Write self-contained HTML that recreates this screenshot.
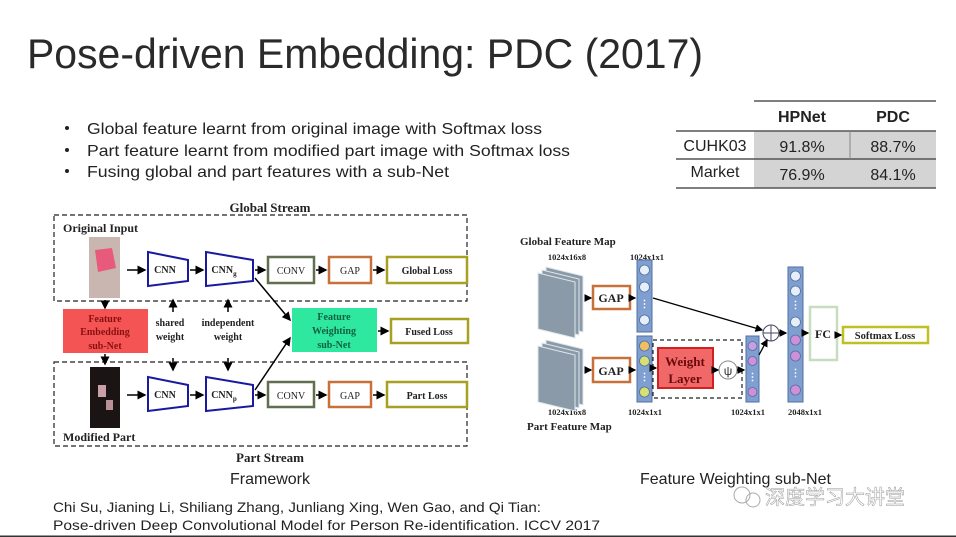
<!DOCTYPE html>
<html><head><meta charset="utf-8"><style>
html,body{margin:0;padding:0;background:#fff;width:956px;height:537px;overflow:hidden}
svg{display:block}
.s{font-family:"Liberation Sans",sans-serif}
.t{font-family:"Liberation Serif",serif;font-weight:bold;fill:#222}
</style></head><body>
<svg width="956" height="537" viewBox="0 0 956 537" xmlns="http://www.w3.org/2000/svg">
<defs>
<marker id="a" markerWidth="6" markerHeight="6" refX="5" refY="3" orient="auto"><path d="M0,0 L6,3 L0,6 z" fill="#000"/></marker>
</defs>
<rect width="956" height="537" fill="#fff"/>
<text class="s" x="27" y="68" font-size="42" fill="#2a2a2a" textLength="676" lengthAdjust="spacingAndGlyphs">Pose-driven Embedding: PDC (2017)</text>
<g class="s" font-size="16" fill="#222">
<circle cx="67" cy="128" r="2" fill="#222"/><circle cx="67" cy="150" r="2" fill="#222"/><circle cx="67" cy="171" r="2" fill="#222"/>
<text x="87" y="134" textLength="455" lengthAdjust="spacingAndGlyphs">Global feature learnt from original image with Softmax loss</text>
<text x="87" y="156" textLength="483" lengthAdjust="spacingAndGlyphs">Part feature learnt from modified part image with Softmax loss</text>
<text x="87" y="177" textLength="362" lengthAdjust="spacingAndGlyphs">Fusing global and part features with a sub-Net</text>
</g>
<rect x="754" y="131" width="182" height="57" fill="#d4d4d4"/>
<line x1="754" y1="101" x2="936" y2="101" stroke="#555" stroke-width="1.5"/>
<line x1="676" y1="131" x2="936" y2="131" stroke="#555" stroke-width="1.5"/>
<line x1="676" y1="159" x2="936" y2="159" stroke="#555" stroke-width="1.5"/>
<line x1="676" y1="188" x2="936" y2="188" stroke="#555" stroke-width="1.5"/>
<line x1="850" y1="131" x2="850" y2="159" stroke="#888" stroke-width="1"/>
<g class="s" font-size="16" fill="#222" text-anchor="middle">
<text x="802" y="122" font-weight="bold">HPNet</text>
<text x="893" y="122" font-weight="bold">PDC</text>
<text x="715" y="151">CUHK03</text>
<text x="715" y="177">Market</text>
<text x="802" y="152">91.8%</text><text x="893" y="152">88.7%</text>
<text x="802" y="180">76.9%</text><text x="893" y="180">84.1%</text>
</g>
<g class="t" font-size="12">
<text x="270" y="212" text-anchor="middle" font-size="13">Global Stream</text>
<text x="270" y="462" text-anchor="middle" font-size="13">Part Stream</text>
<text x="63" y="232">Original Input</text>
<text x="63" y="441">Modified Part</text>
</g>
<rect x="54" y="215" width="413" height="86" fill="none" stroke="#222" stroke-dasharray="5,3" stroke-width="1.2"/>
<rect x="54" y="362" width="413" height="84" fill="none" stroke="#222" stroke-dasharray="5,3" stroke-width="1.2"/>
<rect x="89" y="237" width="31" height="61" fill="#c9b6b0"/>
<path d="M95,250 L112,248 L116,268 L98,272 z" fill="#e85a7a"/>
<rect x="90" y="367" width="30" height="61" fill="#1b1414"/>
<rect x="98" y="385" width="8" height="12" fill="#c9a0a8"/><rect x="106" y="400" width="7" height="10" fill="#b89098"/>
<g fill="#fff" stroke="#1a1aa0" stroke-width="2">
<path d="M148,252 L188,260 L188,281 L148,286 z"/>
<path d="M206,252 L253,260 L253,281 L206,286 z"/>
<path d="M148,377 L188,385 L188,406 L148,411 z"/>
<path d="M206,377 L253,385 L253,406 L206,411 z"/>
</g>
<g class="t" font-size="10" font-weight="normal">
<text x="165" y="273" text-anchor="middle">CNN</text>
<text x="224" y="273" text-anchor="middle">CNN<tspan font-size="7" dy="3">g</tspan></text>
<text x="165" y="398" text-anchor="middle">CNN</text>
<text x="224" y="398" text-anchor="middle">CNN<tspan font-size="7" dy="3">p</tspan></text>
</g>
<g fill="#fff" stroke-width="2.5">
<rect x="268" y="257" width="46" height="26" stroke="#5f6f50"/>
<rect x="329" y="257" width="42" height="26" stroke="#c8703a"/>
<rect x="387" y="257" width="80" height="26" stroke="#a8a020"/>
<rect x="268" y="382" width="46" height="25" stroke="#5f6f50"/>
<rect x="329" y="382" width="42" height="25" stroke="#c8703a"/>
<rect x="387" y="382" width="80" height="25" stroke="#a8a020"/>
<rect x="391" y="319" width="77" height="24" stroke="#a8a020"/>
</g>
<rect x="63" y="309" width="85" height="44" fill="#f45454"/>
<rect x="292" y="308" width="85" height="44" fill="#2ee8a0"/>
<g class="t" font-size="10">
<text x="291" y="274" text-anchor="middle" font-weight="normal">CONV</text>
<text x="350" y="274" text-anchor="middle" font-weight="normal">GAP</text>
<text x="427" y="274" text-anchor="middle">Global Loss</text>
<text x="291" y="399" text-anchor="middle" font-weight="normal">CONV</text>
<text x="350" y="399" text-anchor="middle" font-weight="normal">GAP</text>
<text x="427" y="399" text-anchor="middle">Part Loss</text>
<text x="429" y="335" text-anchor="middle">Fused Loss</text>
<text x="105" y="322" text-anchor="middle" fill="#8a1010">Feature</text>
<text x="105" y="335" text-anchor="middle" fill="#8a1010">Embedding</text>
<text x="105" y="349" text-anchor="middle" fill="#8a1010">sub-Net</text>
<text x="334" y="320" text-anchor="middle" fill="#106040">Feature</text>
<text x="334" y="334" text-anchor="middle" fill="#106040">Weighting</text>
<text x="334" y="348" text-anchor="middle" fill="#106040">sub-Net</text>
<text x="170" y="326" text-anchor="middle">shared</text>
<text x="170" y="340" text-anchor="middle">weight</text>
<text x="228" y="326" text-anchor="middle">independent</text>
<text x="228" y="340" text-anchor="middle">weight</text>
</g>
<g stroke="#000" stroke-width="1.5" marker-end="url(#a)">
<line x1="127" y1="270" x2="145" y2="270"/><line x1="190" y1="270" x2="203" y2="270"/>
<line x1="255" y1="270" x2="265" y2="270"/><line x1="316" y1="270" x2="326" y2="270"/><line x1="373" y1="270" x2="384" y2="270"/>
<line x1="127" y1="395" x2="145" y2="395"/><line x1="190" y1="395" x2="203" y2="395"/>
<line x1="255" y1="395" x2="265" y2="395"/><line x1="316" y1="395" x2="326" y2="395"/><line x1="373" y1="395" x2="384" y2="395"/>
<line x1="378" y1="331" x2="388" y2="331"/>
<line x1="105" y1="300" x2="105" y2="308"/><line x1="105" y1="354" x2="105" y2="364"/>
<line x1="173" y1="312" x2="173" y2="300"/><line x1="228" y1="312" x2="228" y2="300"/>
<line x1="173" y1="358" x2="173" y2="370"/><line x1="228" y1="358" x2="228" y2="370"/>
<line x1="255" y1="278" x2="290" y2="320"/><line x1="255" y1="390" x2="290" y2="338"/>
</g>
<text class="s" x="270" y="484" font-size="16" fill="#222" text-anchor="middle">Framework</text>
<g class="t" font-size="11">
<text x="520" y="245">Global Feature Map</text>
<text x="527" y="430">Part Feature Map</text>
</g>
<g class="t" font-size="8.5">
<text x="567" y="260" text-anchor="middle">1024x16x8</text>
<text x="647" y="260" text-anchor="middle">1024x1x1</text>
<text x="567" y="415" text-anchor="middle">1024x16x8</text>
<text x="645" y="415" text-anchor="middle">1024x1x1</text>
<text x="748" y="415" text-anchor="middle">1024x1x1</text>
<text x="805" y="415" text-anchor="middle">2048x1x1</text>
</g>
<g fill="#8a9aa8" stroke="#dfe6ec" stroke-width="1">
<path d="M546,267 L583,276 L583,332 L546,323 z"/><path d="M542,270 L579,279 L579,335 L542,326 z"/><path d="M538,273 L575,282 L575,338 L538,329 z"/>
<path d="M546,340 L583,349 L583,405 L546,396 z"/><path d="M542,343 L579,352 L579,408 L542,399 z"/><path d="M538,346 L575,355 L575,411 L538,402 z"/>
</g>
<rect x="593" y="286" width="37" height="23" fill="#fff" stroke="#c8703a" stroke-width="2.5"/>
<rect x="593" y="358" width="37" height="24" fill="#fff" stroke="#c8703a" stroke-width="2.5"/>
<g class="t" font-size="12"><text x="611" y="302" text-anchor="middle">GAP</text><text x="611" y="375" text-anchor="middle">GAP</text></g>
<g fill="#7f9fd0" stroke="#506fa0"><rect x="637" y="260" width="15" height="72"/><rect x="637" y="336" width="15" height="66"/><rect x="746" y="336" width="13" height="66"/><rect x="788" y="267" width="15" height="135"/></g>
<g stroke="#506fa0" stroke-width="0.8">
<circle cx="644.5" cy="270" r="5" fill="#e6eefa"/><circle cx="644.5" cy="287" r="5" fill="#e6eefa"/><circle cx="644.5" cy="320" r="5" fill="#e6eefa"/>
<circle cx="644.5" cy="346" r="5" fill="#f0c060"/><circle cx="644.5" cy="361" r="5" fill="#d8e070"/><circle cx="644.5" cy="392" r="5" fill="#d8e070"/>
<circle cx="752.5" cy="346" r="4.5" fill="#c8a0e0"/><circle cx="752.5" cy="361" r="4.5" fill="#d090d8"/><circle cx="752.5" cy="392" r="4.5" fill="#d090d8"/>
<circle cx="795.5" cy="276" r="5" fill="#e6eefa"/><circle cx="795.5" cy="291" r="5" fill="#e6eefa"/><circle cx="795.5" cy="322" r="5" fill="#e6eefa"/>
<circle cx="795.5" cy="340" r="5" fill="#d090d8"/><circle cx="795.5" cy="356" r="5" fill="#d090d8"/><circle cx="795.5" cy="390" r="5" fill="#d090d8"/>
</g>
<g fill="#fff" font-size="10" font-weight="bold" text-anchor="middle" class="s"><text x="644.5" y="307">⋮</text><text x="644.5" y="380">⋮</text><text x="752.5" y="380">⋮</text><text x="795.5" y="308">⋮</text><text x="795.5" y="376">⋮</text></g>
<rect x="653" y="340" width="89" height="58" fill="none" stroke="#222" stroke-dasharray="4,3" stroke-width="1.2"/>
<rect x="658" y="348" width="55" height="40" fill="#f06868" stroke="#d02020" stroke-width="2"/>
<g class="t" font-size="13"><text x="685" y="366" text-anchor="middle" fill="#6a0a0a">Weight</text><text x="685" y="383" text-anchor="middle" fill="#6a0a0a">Layer</text></g>
<circle cx="728" cy="370" r="9" fill="#fff" stroke="#888"/>
<text x="728" y="375" class="s" font-size="12" text-anchor="middle" fill="#333">ψ</text>
<circle cx="771" cy="333" r="8" fill="#fff" stroke="#446"/>
<path d="M763,333 H779 M771,325 V341" stroke="#446"/>
<rect x="810" y="307" width="27" height="53" fill="#fff" stroke="#c8dcc0" stroke-width="2.5"/>
<text x="823" y="338" class="t" font-size="12" text-anchor="middle">FC</text>
<rect x="843" y="327" width="85" height="16" fill="#fff" stroke="#c0c020" stroke-width="2.5"/>
<text x="885" y="339" class="t" font-size="10.5" text-anchor="middle">Softmax Loss</text>
<g stroke="#000" stroke-width="1.3" marker-end="url(#a)">
<line x1="587" y1="298" x2="591" y2="298"/><line x1="630" y1="298" x2="635" y2="298"/>
<line x1="587" y1="370" x2="591" y2="370"/><line x1="630" y1="370" x2="635" y2="370"/>
<line x1="652" y1="368" x2="656" y2="368"/><line x1="713" y1="370" x2="718" y2="370"/><line x1="737" y1="370" x2="744" y2="370"/>
<line x1="653" y1="298" x2="762" y2="330"/><line x1="759" y1="355" x2="767" y2="340"/>
<line x1="779" y1="333" x2="786" y2="333"/><line x1="803" y1="333" x2="808" y2="333"/><line x1="837" y1="335" x2="841" y2="335"/>
</g>
<text class="s" x="640" y="484" font-size="16" fill="#222">Feature Weighting sub-Net</text>
<g stroke="#aaa" fill="none" stroke-width="1"><circle cx="742" cy="495" r="8"/><circle cx="753" cy="500" r="7"/></g>
<text x="765" y="504" font-family="'Noto Sans CJK SC',sans-serif" font-size="20" fill="#fff" stroke="#999" stroke-width="0.5">深度学习大讲堂</text>
<g class="s" font-size="14" fill="#222">
<text x="53" y="512" textLength="488" lengthAdjust="spacingAndGlyphs">Chi Su, Jianing Li, Shiliang Zhang, Junliang Xing, Wen Gao, and Qi Tian:</text>
<text x="53" y="530" textLength="547" lengthAdjust="spacingAndGlyphs">Pose-driven Deep Convolutional Model for Person Re-identification. ICCV 2017</text>
</g>
<rect x="0" y="535.5" width="956" height="1.5" fill="#333"/>
</svg>
</body></html>
